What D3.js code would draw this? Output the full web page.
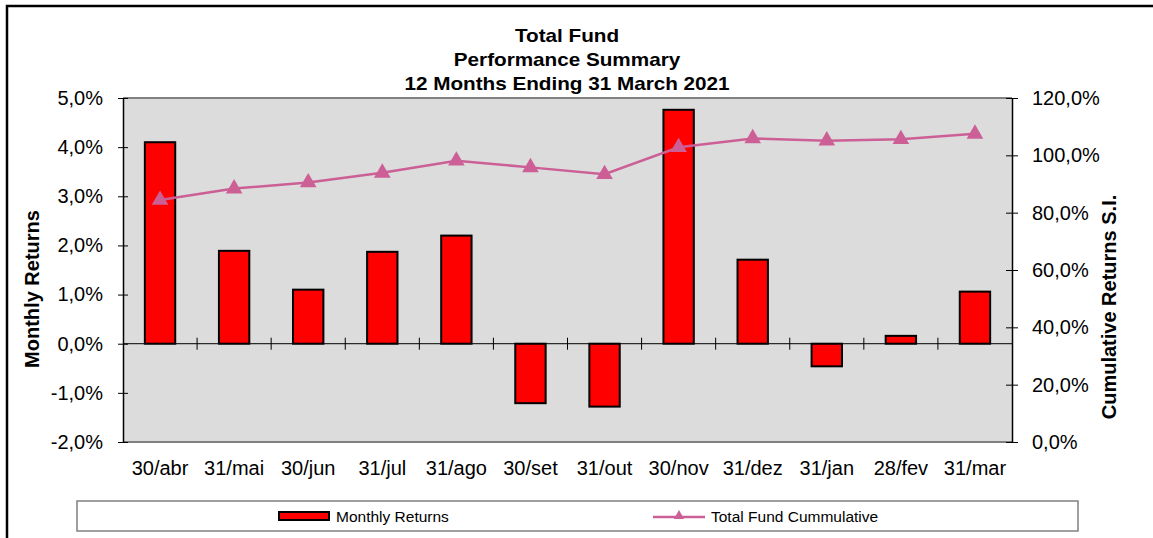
<!DOCTYPE html>
<html>
<head>
<meta charset="utf-8">
<script src="https://cdn.jsdelivr.net/npm/d3@7"></script>
<style>
  body { margin: 0; background: #fff; }
  text { font-family: "Liberation Sans", Arial, sans-serif; }
</style>
</head>
<body>
<div id="chart"></div>
<script>
// Data
const months = ["30/abr", "31/mai", "30/jun", "31/jul", "31/ago", "30/set",
                "31/out", "30/nov", "31/dez", "31/jan", "28/fev", "31/mar"];
const monthlyReturns = [0.0410, 0.0189, 0.0110, 0.0187, 0.0220, -0.0121,
                        -0.0128, 0.0476, 0.0171, -0.0046, 0.0016, 0.0106];
const cumulative = [0.844, 0.884, 0.905, 0.939, 0.981, 0.958,
                    0.934, 1.028, 1.059, 1.051, 1.056, 1.075];
const leftTicks = [-0.02, -0.01, 0, 0.01, 0.02, 0.03, 0.04, 0.05];
const rightTicks = [0, 0.2, 0.4, 0.6, 0.8, 1.0, 1.2];
const titleLines = ["Total Fund", "Performance Summary", "12 Months Ending 31 March 2021"];

const width = 1153;
const height = 538;
const plot = { left: 123, right: 1012, top: 98, bottom: 442 };
const lineColor = "#cc5f96";

const locale = d3.formatLocale({ decimal: ",", thousands: ".", grouping: [3], currency: ["", ""], minus: "-" });
const pct = locale.format(".1%");

const svg = d3.select("#chart")
  .append("svg")
  .attr("width", width)
  .attr("height", height);

// Outer frame (only left and top edges visible)
svg.append("rect")
  .attr("x", 7).attr("y", 6)
  .attr("width", 1200).attr("height", 600)
  .attr("fill", "none")
  .attr("stroke", "#000")
  .attr("stroke-width", 2.5);

// Scales
const x = d3.scaleBand().domain(months).range([plot.left, plot.right]);
const yL = d3.scaleLinear().domain([-0.02, 0.05]).range([plot.bottom, plot.top]);
const yR = d3.scaleLinear().domain([0, 1.2]).range([plot.bottom, plot.top]);

// Plot background
svg.append("rect")
  .attr("x", plot.left).attr("y", plot.top)
  .attr("width", plot.right - plot.left).attr("height", plot.bottom - plot.top)
  .attr("fill", "#dcdcdc");
svg.append("line")
  .attr("x1", plot.left).attr("x2", plot.right)
  .attr("y1", plot.top).attr("y2", plot.top)
  .attr("stroke", "#808080").attr("stroke-width", 2);
svg.append("line")
  .attr("x1", plot.left).attr("x2", plot.right)
  .attr("y1", plot.bottom).attr("y2", plot.bottom)
  .attr("stroke", "#808080").attr("stroke-width", 2);

// Title
svg.append("g")
  .selectAll("text")
  .data(titleLines)
  .join("text")
  .attr("transform", (d, i) => `translate(567,${42 + i * 24}) scale(1.15,1)`)
  .attr("text-anchor", "middle")
  .attr("font-size", 18)
  .attr("font-weight", "bold")
  .text(d => d);

// Bars
const barW = x.bandwidth() * 0.41;
svg.append("g")
  .selectAll("rect")
  .data(monthlyReturns)
  .join("rect")
  .attr("x", (d, i) => x(months[i]) + (x.bandwidth() - barW) / 2)
  .attr("y", d => yL(Math.max(0, d)))
  .attr("width", barW)
  .attr("height", d => Math.abs(yL(d) - yL(0)))
  .attr("fill", "#ff0000")
  .attr("stroke", "#000")
  .attr("stroke-width", 2);

// Zero line with category ticks
svg.append("line")
  .attr("x1", plot.left).attr("x2", plot.right)
  .attr("y1", yL(0)).attr("y2", yL(0))
  .attr("stroke", "#000").attr("stroke-width", 1);
svg.append("g")
  .selectAll("line")
  .data(months.slice(1))
  .join("line")
  .attr("x1", d => x(d)).attr("x2", d => x(d))
  .attr("y1", yL(0) - 6).attr("y2", yL(0) + 6)
  .attr("stroke", "#000").attr("stroke-width", 1);

// Cumulative line
const line = d3.line()
  .x((d, i) => x(months[i]) + x.bandwidth() / 2)
  .y(d => yR(d));
svg.append("path")
  .datum(cumulative)
  .attr("d", line)
  .attr("fill", "none")
  .attr("stroke", lineColor)
  .attr("stroke-width", 2.5);
svg.append("g")
  .selectAll("path")
  .data(cumulative)
  .join("path")
  .attr("d", d3.symbol(d3.symbolTriangle, 120))
  .attr("transform", (d, i) => `translate(${x(months[i]) + x.bandwidth() / 2},${yR(d)})`)
  .attr("fill", lineColor);

// Left axis
const gL = svg.append("g")
  .attr("transform", `translate(${plot.left},0)`)
  .call(d3.axisLeft(yL).tickValues(leftTicks).tickFormat(pct).tickSize(5).tickSizeOuter(0).tickPadding(15));
gL.selectAll(".tick line").attr("x1", 5);
gL.select(".domain").attr("stroke-width", 1.5);
gL.selectAll("text")
  .attr("font-size", 20)
  .attr("font-family", "Liberation Sans, Arial, sans-serif")
  .attr("fill", "#000");

// Right axis
const gR = svg.append("g")
  .attr("transform", `translate(${plot.right},0)`)
  .call(d3.axisRight(yR).tickValues(rightTicks).tickFormat(pct).tickSize(6).tickSizeOuter(0).tickPadding(14));
gR.selectAll(".tick line").attr("x1", -6);
gR.select(".domain").attr("stroke-width", 1.5);
gR.selectAll("text")
  .attr("font-size", 20)
  .attr("font-family", "Liberation Sans, Arial, sans-serif")
  .attr("fill", "#000");

// Category labels
const gX = svg.append("g")
  .attr("transform", `translate(0,${plot.bottom})`)
  .call(d3.axisBottom(x).tickSize(0).tickPadding(19));
gX.select(".domain").remove();
gX.selectAll("text")
  .attr("font-size", 20)
  .attr("font-family", "Liberation Sans, Arial, sans-serif")
  .attr("fill", "#000");

// Axis titles
svg.append("text")
  .attr("transform", "translate(39,289) rotate(-90)")
  .attr("text-anchor", "middle")
  .attr("font-size", 20)
  .attr("font-weight", "bold")
  .text("Monthly Returns");
svg.append("text")
  .attr("transform", "translate(1116,307) rotate(-90)")
  .attr("text-anchor", "middle")
  .attr("font-size", 20)
  .attr("font-weight", "bold")
  .text("Cumulative Returns S.I.");

// Legend
const legend = svg.append("g");
legend.append("rect")
  .attr("x", 77).attr("y", 501)
  .attr("width", 1001).attr("height", 30)
  .attr("fill", "#fff")
  .attr("stroke", "#808080")
  .attr("stroke-width", 1.5);
legend.append("rect")
  .attr("x", 279).attr("y", 512)
  .attr("width", 50).attr("height", 8)
  .attr("fill", "#ff0000")
  .attr("stroke", "#000")
  .attr("stroke-width", 2);
legend.append("text")
  .attr("x", 336).attr("y", 522)
  .attr("font-size", 15.5)
  .text("Monthly Returns");
legend.append("line")
  .attr("x1", 653).attr("x2", 705)
  .attr("y1", 517).attr("y2", 517)
  .attr("stroke", lineColor).attr("stroke-width", 2.5);
legend.append("path")
  .attr("d", d3.symbol(d3.symbolTriangle, 45))
  .attr("transform", "translate(679,516)")
  .attr("fill", lineColor);
legend.append("text")
  .attr("x", 711).attr("y", 522)
  .attr("font-size", 15.5)
  .text("Total Fund Cummulative");
</script>
</body>
</html>
